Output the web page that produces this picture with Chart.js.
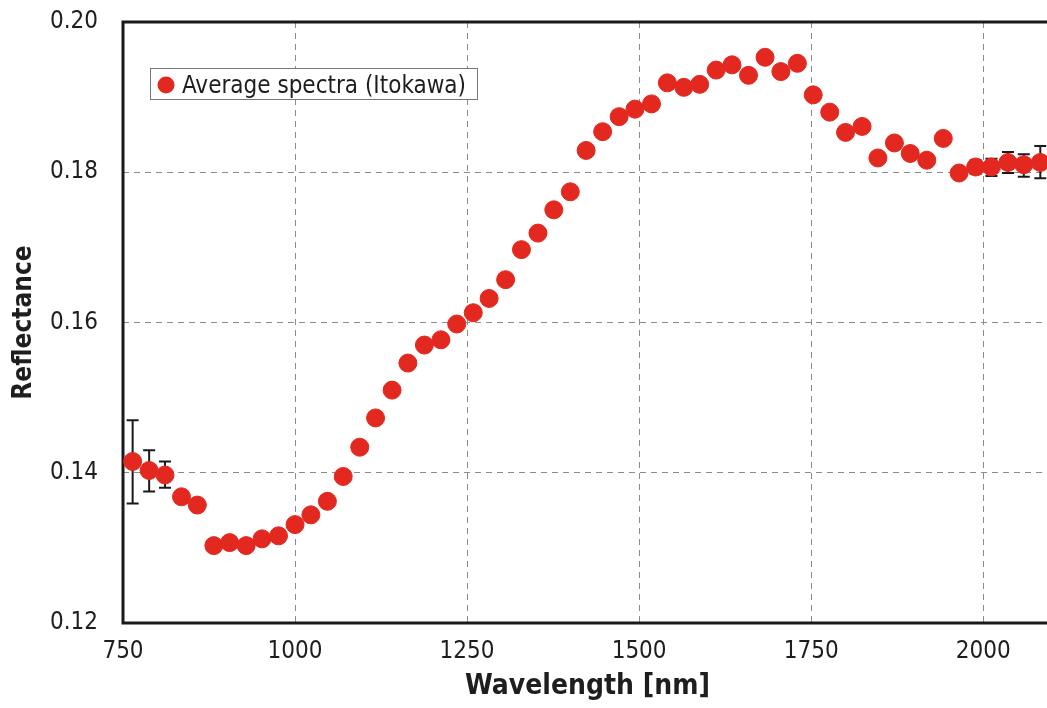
<!DOCTYPE html>
<html>
<head>
<meta charset="utf-8">
<script src="https://cdn.jsdelivr.net/npm/chart.js@4.4.1/dist/chart.umd.min.js"></script>
<style>
  html, body { margin: 0; padding: 0; background: #fff; overflow: hidden; }
  #wrap { position: relative; width: 1062px; height: 708px; }
</style>
</head>
<body>
<div id="wrap"><canvas id="spectraChart"></canvas></div>
<script>
// NIRS channel wavelengths [nm] (visible part of the plot)
const wavelengths = [
  764, 788, 811, 835, 858, 882, 905, 929, 952, 976,
  1000, 1023, 1047, 1070, 1094, 1117, 1141, 1164, 1188, 1212,
  1235, 1259, 1282, 1306, 1329, 1353, 1376, 1400, 1423, 1447,
  1471, 1494, 1518, 1541, 1565, 1588, 1612, 1635, 1659, 1683,
  1706, 1730, 1753, 1777, 1800, 1824, 1847, 1871, 1894, 1918,
  1942, 1965, 1989, 2012, 2036, 2059, 2083
];
const reflectance = [
  0.1415, 0.1403, 0.1397, 0.1368, 0.1357, 0.1303, 0.1307, 0.1303, 0.1312, 0.1316,
  0.1331, 0.1344, 0.1362, 0.1395, 0.1434, 0.1473, 0.1510, 0.1546, 0.1570, 0.1577,
  0.1598, 0.1613, 0.1632, 0.1657, 0.1697, 0.1719, 0.1750, 0.1774, 0.1829, 0.1854,
  0.1874, 0.1884, 0.1891, 0.1919, 0.1913, 0.1917, 0.1936, 0.1943, 0.1929, 0.1953,
  0.1934, 0.1945, 0.1903, 0.1880, 0.1853, 0.1861, 0.1819, 0.1839, 0.1825, 0.1816,
  0.1845, 0.1799, 0.1807, 0.1807, 0.1813, 0.1810, 0.1813
];
// error bars (only some channels have them)
const errIndex = [0, 1, 2, 52, 53, 54, 55, 56];
const errLow   = [0.1359, 0.1375, 0.1380, 0.1798, 0.1795, 0.1799, 0.1794, 0.1792];
const errHigh  = [0.1470, 0.1430, 0.1415, 0.1816, 0.1818, 0.1827, 0.1824, 0.1835];

const xTicks = [750, 1000, 1250, 1500, 1750, 2000];
const yTicks = [0.12, 0.14, 0.16, 0.18, 0.20];

const FONT = "'Liberation Sans Narrow', 'DejaVu Sans Condensed', 'DejaVu Sans', sans-serif";
const RED = '#e2281f';

const framePlugin = {
  id: 'frame',
  beforeDatasetsDraw(chart) {
    const { ctx, chartArea: a, scales } = chart;
    ctx.save();
    // error bars under the dots
    ctx.strokeStyle = '#1a1a1a';
    ctx.lineWidth = 2;
    errIndex.forEach((idx, k) => {
      const x = scales.x.getPixelForValue(wavelengths[idx]);
      const y1 = scales.y.getPixelForValue(errLow[k]);
      const y2 = scales.y.getPixelForValue(errHigh[k]);
      ctx.beginPath();
      ctx.moveTo(x, y1); ctx.lineTo(x, y2);
      ctx.moveTo(x - 6, y1); ctx.lineTo(x + 6, y1);
      ctx.moveTo(x - 6, y2); ctx.lineTo(x + 6, y2);
      ctx.stroke();
    });
    // plot frame
    ctx.strokeStyle = '#1a1a1a';
    ctx.lineWidth = 3;
    ctx.strokeRect(a.left, a.top, a.right - a.left, a.bottom - a.top);
    ctx.restore();
  },
  afterDraw(chart) {
    const ctx = chart.ctx;
    const label = chart.data.datasets[0].label;
    ctx.save();
    ctx.fillStyle = '#fff';
    ctx.strokeStyle = '#777';
    ctx.lineWidth = 1;
    ctx.fillRect(150.5, 68.5, 327, 31);
    ctx.strokeRect(150.5, 68.5, 327, 31);
    ctx.fillStyle = RED;
    ctx.beginPath();
    ctx.arc(166, 85, 8.5, 0, Math.PI * 2);
    ctx.fill();
    ctx.fillStyle = '#1e1e1e';
    ctx.font = "24px " + FONT;
    ctx.textBaseline = 'alphabetic';
    ctx.fillText(label, 182, 93);
    ctx.restore();
  }
};

const chart = new Chart(document.getElementById('spectraChart'), {
  type: 'scatter',
  data: {
    datasets: [{
      label: 'Average spectra (Itokawa)',
      data: wavelengths.map((w, i) => ({ x: w, y: reflectance[i] })),
      pointRadius: 9,
      pointHoverRadius: 9,
      backgroundColor: RED,
      borderColor: RED,
      borderWidth: 1
    }]
  },
  options: {
    responsive: true,
    maintainAspectRatio: false,
    animation: false,
    layout: { padding: { left: 0, top: 22, right: 6, bottom: 0 } },
    plugins: {
      legend: { display: false },
      tooltip: { enabled: false }
    },
    scales: {
      x: {
        type: 'linear',
        min: 750,
        max: 2100,
        afterBuildTicks: s => { s.ticks = xTicks.map(v => ({ value: v })); },
        afterFit: s => { s.height = 85; s.paddingLeft = 0; s.paddingRight = 0; },
        grid: { color: '#8c8c8c', lineWidth: 1, drawTicks: false },
        border: { display: false, dash: [6, 5] },
        ticks: {
          padding: 14,
          color: '#1e1e1e',
          font: { family: FONT, size: 24 },
          maxRotation: 0,
          callback: v => String(v)
        },
        title: {
          display: true,
          text: 'Wavelength [nm]',
          color: '#1e1e1e',
          font: { family: FONT, size: 28, weight: 'bold' },
          padding: { top: 0, bottom: 4 }
        }
      },
      y: {
        min: 0.12,
        max: 0.20,
        afterBuildTicks: s => { s.ticks = yTicks.map(v => ({ value: v })); },
        afterFit: s => { s.width = 123; s.paddingTop = 0; s.paddingBottom = 0; },
        grid: { color: '#8c8c8c', lineWidth: 1, drawTicks: false },
        border: { display: false, dash: [6, 5] },
        ticks: {
          padding: 25,
          color: '#1e1e1e',
          font: { family: FONT, size: 24 },
          callback: v => v.toFixed(2)
        },
        title: {
          display: true,
          text: 'Reflectance',
          color: '#1e1e1e',
          font: { family: FONT, size: 26, weight: 'bold' },
          padding: { top: 9, bottom: 0 }
        }
      }
    }
  },
  plugins: [framePlugin]
});
</script>
</body>
</html>
